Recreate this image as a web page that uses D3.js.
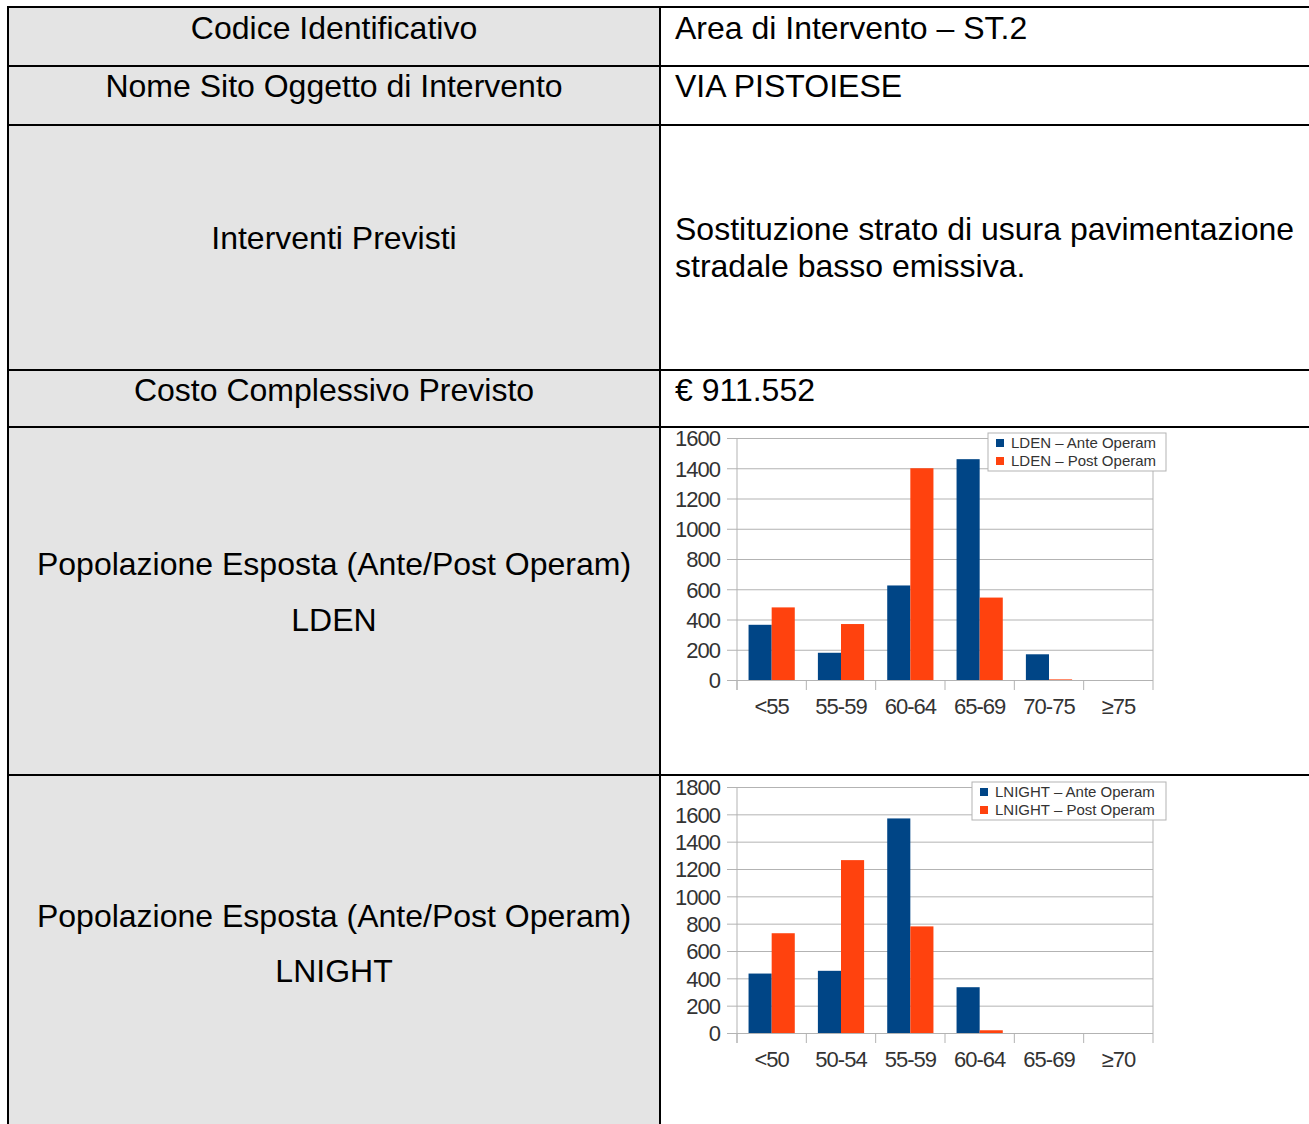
<!DOCTYPE html>
<html lang="it">

<head>
  <meta charset="utf-8">
  <title>Area di Intervento ST.2 - Via Pistoiese</title>
  <script src="https://cdnjs.cloudflare.com/ajax/libs/d3/7.8.5/d3.min.js"></script>
  <style type="text/css">
    body { margin: 0; background: #fff; }
    .cell-text { font-family: "Liberation Sans", Arial, sans-serif; font-size: 32px; fill: #000; }
    .tick text { font-family: "Liberation Sans", Arial, sans-serif; font-size: 22px; fill: #333; letter-spacing: -1px; }
    .tick line { stroke: #b3b3b3; }
    .legend text { font-family: "Liberation Sans", Arial, sans-serif; font-size: 15px; fill: #333; }
  </style>
</head>

<body>
  <script>
    var w = 1309;
    var h = 1124;

    // table content
    var leftLabels = ['Codice Identificativo', 'Nome Sito Oggetto di Intervento', 'Interventi Previsti',
      'Costo Complessivo Previsto'];
    var rightLabels = ['Area di Intervento \u2013 ST.2', 'VIA PISTOIESE',
      'Sostituzione strato di usura pavimentazione|stradale basso emissiva.', '\u20ac 911.552'];
    var chartRowLabels = [['Popolazione Esposta (Ante/Post Operam)', 'LDEN'],
      ['Popolazione Esposta (Ante/Post Operam)', 'LNIGHT']];

    // LDEN chart
    var ldenCats = ['<55', '55-59', '60-64', '65-69', '70-75', '\u226575'];
    var ldenAnte = [365, 180, 625, 1460, 170, 0];
    var ldenPost = [480, 370, 1400, 545, 4, 0];
    var ldenTicks = [0, 200, 400, 600, 800, 1000, 1200, 1400, 1600];
    var ldenSeries = ['LDEN \u2013 Ante Operam', 'LDEN \u2013 Post Operam'];

    // LNIGHT chart
    var lnightCats = ['<50', '50-54', '55-59', '60-64', '65-69', '\u226570'];
    var lnightAnte = [435, 455, 1570, 335, 0, 0];
    var lnightPost = [730, 1265, 780, 20, 0, 0];
    var lnightTicks = [0, 200, 400, 600, 800, 1000, 1200, 1400, 1600, 1800];
    var lnightSeries = ['LNIGHT \u2013 Ante Operam', 'LNIGHT \u2013 Post Operam'];

    var colors = ['#004586', '#ff420e'];

    var svg = d3.select('body')
      .append('svg')
      .attr('width', w)
      .attr('height', h);

    // ---- table ----
    var colX = 660;
    var rowLines = [7, 66, 125, 370, 427, 775];

    svg.append('rect')
      .attr('x', 8).attr('y', 7)
      .attr('width', colX - 8).attr('height', h - 7)
      .attr('fill', '#e4e4e4');

    svg.selectAll('line.row')
      .data(rowLines)
      .enter()
      .append('line')
      .attr('class', 'row')
      .attr('x1', 7).attr('x2', w)
      .attr('y1', d => d).attr('y2', d => d)
      .attr('stroke', '#000').attr('stroke-width', 2);

    [8, colX].forEach(function (x) {
      svg.append('line')
        .attr('x1', x).attr('x2', x)
        .attr('y1', 6).attr('y2', h)
        .attr('stroke', '#000').attr('stroke-width', 2);
    });

    var leftBaselines = [39, 97, 249, 401];
    var rightBaselines = [[39], [97], [240, 277], [401]];

    svg.selectAll('text.left')
      .data(leftLabels)
      .enter()
      .append('text')
      .attr('class', 'cell-text left')
      .attr('x', (8 + colX) / 2)
      .attr('y', (d, i) => leftBaselines[i])
      .attr('text-anchor', 'middle')
      .text(d => d);

    rightLabels.forEach(function (t, i) {
      t.split('|').forEach(function (line, j) {
        svg.append('text')
          .attr('class', 'cell-text')
          .attr('x', 675)
          .attr('y', rightBaselines[i][j])
          .text(line);
      });
    });

    var chartTextBaselines = [[575, 631], [927, 982]];
    chartRowLabels.forEach(function (lines, i) {
      lines.forEach(function (line, j) {
        svg.append('text')
          .attr('class', 'cell-text')
          .attr('x', (8 + colX) / 2)
          .attr('y', chartTextBaselines[i][j])
          .attr('text-anchor', 'middle')
          .text(line);
      });
    });

    // ---- charts ----
    function drawChart (cfg) {
      var g = svg.append('g');
      var left = 737, right = 1153;

      var xScale = d3.scaleBand()
        .domain(cfg.cats)
        .range([left, right]);

      var sub = d3.scaleBand()
        .domain([0, 1])
        .range([0, xScale.bandwidth()])
        .paddingInner(0)
        .paddingOuter(0.5);

      var yScale = d3.scaleLinear()
        .domain([0, d3.max(cfg.ticks)])
        .range([cfg.bottom, cfg.top]);

      // gridlines + y labels
      var yAxis = g.append('g')
        .attr('transform', 'translate(727,0)')
        .call(d3.axisLeft(yScale).tickValues(cfg.ticks).tickFormat(d3.format('d'))
          .tickSize(-(right - 727)).tickPadding(7));
      yAxis.select('.domain').remove();
      yAxis.selectAll('text').attr('dy', '0.36em');

      // plot border verticals
      [left, right].forEach(function (x) {
        g.append('line')
          .attr('x1', x).attr('x2', x)
          .attr('y1', cfg.top).attr('y2', cfg.bottom + 10)
          .attr('stroke', '#b3b3b3');
      });

      // category boundary ticks
      g.selectAll('line.cat')
        .data(cfg.cats)
        .enter()
        .append('line')
        .attr('class', 'cat')
        .attr('x1', d => xScale(d)).attr('x2', d => xScale(d))
        .attr('y1', cfg.bottom).attr('y2', cfg.bottom + 10)
        .attr('stroke', '#b3b3b3');

      // bars
      [cfg.ante, cfg.post].forEach(function (vals, s) {
        g.selectAll('rect.s' + s)
          .data(vals)
          .enter()
          .append('rect')
          .attr('class', 's' + s)
          .attr('x', (d, i) => xScale(cfg.cats[i]) + sub(s))
          .attr('y', d => yScale(d))
          .attr('width', sub.bandwidth())
          .attr('height', d => cfg.bottom - yScale(d))
          .attr('fill', colors[s]);
      });

      // category labels
      var xAxis = g.append('g')
        .attr('transform', 'translate(0,' + cfg.bottom + ')')
        .call(d3.axisBottom(xScale).tickSize(0).tickPadding(18));
      xAxis.select('.domain').remove();

      // legend
      var lg = g.append('g').attr('class', 'legend');
      lg.append('rect')
        .attr('x', cfg.legX).attr('y', cfg.top - 5)
        .attr('width', 1166 - cfg.legX).attr('height', 38)
        .attr('fill', '#fff').attr('stroke', '#b3b3b3');
      cfg.series.forEach(function (name, s) {
        lg.append('rect')
          .attr('x', cfg.legX + 8).attr('y', cfg.top + 1 + s * 18)
          .attr('width', 8).attr('height', 8)
          .attr('fill', colors[s]);
        lg.append('text')
          .attr('x', cfg.legX + 23).attr('y', cfg.top + 10 + s * 18)
          .text(name);
      });
    }

    drawChart({
      cats: ldenCats, ante: ldenAnte, post: ldenPost, ticks: ldenTicks,
      series: ldenSeries, top: 438, bottom: 680, legX: 988
    });

    drawChart({
      cats: lnightCats, ante: lnightAnte, post: lnightPost, ticks: lnightTicks,
      series: lnightSeries, top: 787, bottom: 1033, legX: 972
    });
  </script>
</body>

</html>
